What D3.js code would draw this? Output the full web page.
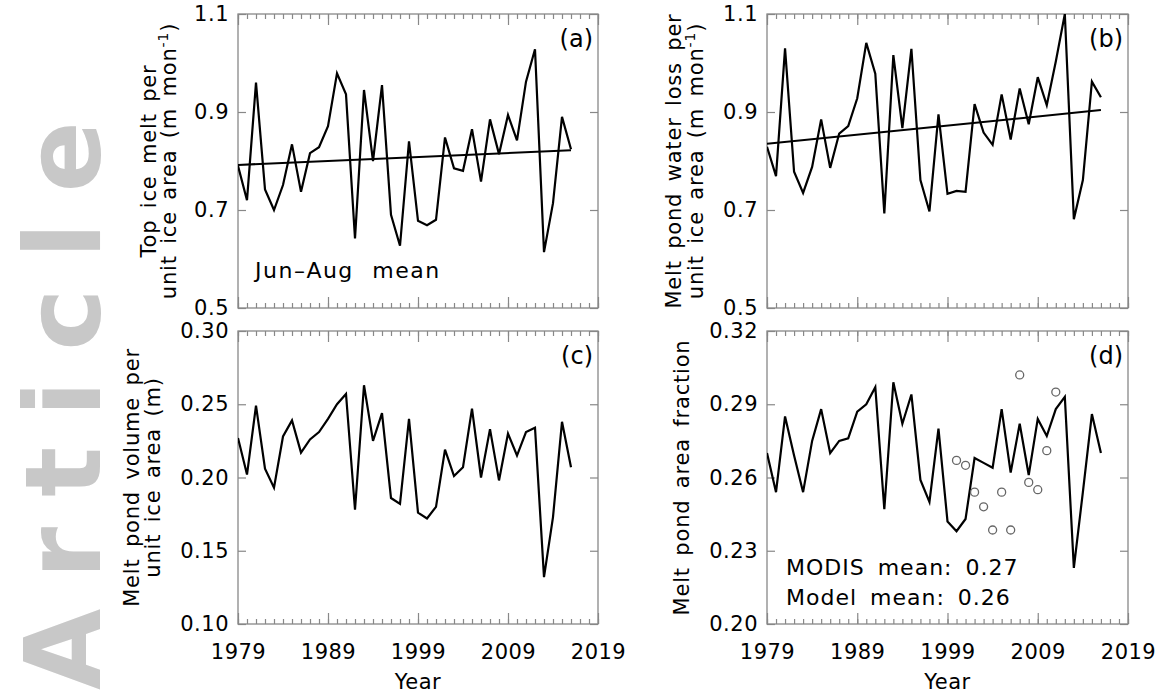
<!DOCTYPE html>
<html lang="en">
<head>
<meta charset="UTF-8">
<title>Melt pond time series</title>
<script src="https://d3js.org/d3.v7.min.js"></script>
<style>
  body { margin: 0; background: #fff; }
  svg { display: block; }
  text { font-family: "DejaVu Sans", sans-serif; fill: #000; }
</style>
</head>
<body>
<svg width="1160" height="698"></svg>
<script>
// ---- data ----
const years = d3.range(1979, 2017);
const xTickYears = [1979, 1989, 1999, 2009, 2019];

const topMelt = [0.79, 0.72, 0.96, 0.742, 0.70, 0.751, 0.834, 0.737, 0.816, 0.828,
  0.871, 0.979, 0.936, 0.642, 0.945, 0.80, 0.955, 0.69, 0.627, 0.84,
  0.678, 0.669, 0.68, 0.848, 0.785, 0.78, 0.865, 0.758, 0.885, 0.814,
  0.894, 0.842, 0.962, 1.028, 0.614, 0.714, 0.89, 0.824];
const topMeltTrend = [0.792, 0.822];

const pondLoss = [0.829, 0.769, 1.03, 0.778, 0.735, 0.788, 0.885, 0.786, 0.856, 0.871,
  0.928, 1.041, 0.978, 0.693, 1.016, 0.867, 1.029, 0.761, 0.697, 0.895,
  0.733, 0.739, 0.737, 0.916, 0.858, 0.833, 0.936, 0.844, 0.948, 0.875,
  0.971, 0.914, 1.003, 1.10, 0.681, 0.761, 0.962, 0.93];
const pondLossTrend = [0.835, 0.904];

const pondVolume = [0.227, 0.202, 0.249, 0.206, 0.193, 0.228, 0.239, 0.217, 0.226, 0.231,
  0.240, 0.250, 0.257, 0.178, 0.263, 0.225, 0.244, 0.186, 0.182, 0.240,
  0.176, 0.172, 0.180, 0.219, 0.201, 0.207, 0.247, 0.200, 0.233, 0.198,
  0.230, 0.215, 0.231, 0.234, 0.132, 0.173, 0.238, 0.207];

const pondFraction = [0.270, 0.254, 0.285, 0.269, 0.254, 0.275, 0.288, 0.270, 0.275, 0.276,
  0.287, 0.290, 0.297, 0.247, 0.299, 0.282, 0.294, 0.259, 0.250, 0.280,
  0.242, 0.238, 0.243, 0.268, 0.266, 0.264, 0.288, 0.262, 0.282, 0.261,
  0.284, 0.277, 0.288, 0.293, 0.223, 0.254, 0.286, 0.270];

const modisYears = [2000, 2001, 2002, 2003, 2004, 2005, 2006, 2007, 2008, 2009, 2010, 2011];
const modisFraction = [0.267, 0.265, 0.254, 0.248, 0.2385, 0.254, 0.2385, 0.302, 0.258, 0.255, 0.271, 0.295];

const yTicksA = [0.5, 0.7, 0.9, 1.1];
const yTicksB = [0.5, 0.7, 0.9, 1.1];
const yTicksC = [0.10, 0.15, 0.20, 0.25, 0.30];
const yTicksD = [0.20, 0.23, 0.26, 0.29, 0.32];

// ---- layout ----
const svg = d3.select("svg");
const boxColor = "#888";

// faint watermark on the left edge
svg.append("text")
  .attr("transform", "translate(100,690) rotate(-90)")
  .attr("font-size", 105)
  .attr("font-weight", "bold")
  .attr("letter-spacing", 30)
  .style("fill", "#c8c8c8")
  .text("Article");

const panels = [
  { id: "a", values: topMelt, trend: topMeltTrend, domain: [0.5, 1.1], ticks: yTicksA, fmt: ".1f",
    box: [238, 14, 598, 308], titles: ["Top ice melt per", "unit ice area (m mon|-1|)"], titleX: [-82, -62], xLabels: false },
  { id: "b", values: pondLoss, trend: pondLossTrend, domain: [0.5, 1.1], ticks: yTicksB, fmt: ".1f",
    box: [767, 14, 1128, 308], titles: ["Melt pond water loss per", "unit ice area (m mon|-1|)"], titleX: [-86, -64], xLabels: false },
  { id: "c", values: pondVolume, domain: [0.10, 0.30], ticks: yTicksC, fmt: ".2f",
    box: [238, 331, 598, 624], titles: ["Melt pond volume per", "unit ice area (m)"], titleX: [-99, -78], xLabels: true },
  { id: "d", values: pondFraction, domain: [0.20, 0.32], ticks: yTicksD, fmt: ".2f",
    box: [767, 331, 1128, 624], titles: ["Melt pond area fraction"], titleX: [-78], xLabels: true }
];

function styleAxis(g) {
  g.select(".domain").remove();
  g.selectAll(".tick line").attr("stroke", boxColor).attr("stroke-width", 1.2);
  g.selectAll(".tick text")
    .attr("font-family", "DejaVu Sans").attr("font-size", 21)
    .attr("letter-spacing", 0.5).attr("fill", "#000");
}

panels.forEach(p => {
  const [x0, y0, x1, y1] = p.box;
  const x = d3.scaleLinear().domain([1979, 2019]).range([x0, x1]);
  const y = d3.scaleLinear().domain(p.domain).range([y1, y0]);
  const g = svg.append("g").attr("class", "panel-" + p.id);
  const allYears = d3.range(1979, 2020);

  // minor + major x ticks, bottom and top
  g.append("g").attr("transform", `translate(0,${y1})`)
    .call(d3.axisBottom(x).tickValues(allYears).tickSize(-5).tickFormat("")).call(styleAxis);
  g.append("g").attr("transform", `translate(0,${y0})`)
    .call(d3.axisTop(x).tickValues(allYears).tickSize(-5).tickFormat("")).call(styleAxis);
  g.append("g").attr("transform", `translate(0,${y1})`)
    .call(d3.axisBottom(x).tickValues(xTickYears).tickSize(-11).tickPadding(20)
      .tickFormat(p.xLabels ? d3.format("d") : "")).call(styleAxis);
  g.append("g").attr("transform", `translate(0,${y0})`)
    .call(d3.axisTop(x).tickValues(xTickYears).tickSize(-11).tickFormat("")).call(styleAxis);

  // y ticks left (labelled) and right
  g.append("g").attr("transform", `translate(${x0},0)`)
    .call(d3.axisLeft(y).tickValues(p.ticks).tickSize(-8).tickPadding(9).tickFormat(d3.format(p.fmt))).call(styleAxis);
  g.append("g").attr("transform", `translate(${x1},0)`)
    .call(d3.axisRight(y).tickValues(p.ticks).tickSize(-8).tickFormat("")).call(styleAxis);

  // frame
  g.append("rect").attr("x", x0).attr("y", y0).attr("width", x1 - x0).attr("height", y1 - y0)
    .attr("fill", "none").attr("stroke", boxColor).attr("stroke-width", 1.3);

  // data
  g.append("clipPath").attr("id", "clip-" + p.id)
    .append("rect").attr("x", x0).attr("y", y0).attr("width", x1 - x0).attr("height", y1 - y0);
  const plot = g.append("g").attr("clip-path", `url(#clip-${p.id})`);
  const line = d3.line().x((d, i) => x(years[i])).y(d => y(d));
  plot.append("path").attr("d", line(p.values))
    .attr("fill", "none").attr("stroke", "#000").attr("stroke-width", 2.2);
  if (p.trend) {
    plot.append("line")
      .attr("x1", x(years[0])).attr("y1", y(p.trend[0]))
      .attr("x2", x(years[years.length - 1])).attr("y2", y(p.trend[1]))
      .attr("stroke", "#000").attr("stroke-width", 2);
  }

  // panel letter
  g.append("text").attr("x", x1 - 5).attr("y", y0 + 33)
    .attr("text-anchor", "end").attr("font-size", 24).text(`(${p.id})`);

  // y title (rotated), "|" marks superscript
  const cy = (y0 + y1) / 2;
  p.titles.forEach((t, i) => {
    const txt = g.append("text")
      .attr("transform", `translate(${x0 + p.titleX[i]},${cy}) rotate(-90)`)
      .attr("text-anchor", "middle").attr("font-size", 21)
      .attr("letter-spacing", 0.8).attr("word-spacing", 4);
    t.split("|").forEach((part, k) => {
      const ts = txt.append("tspan").text(part);
      if (k === 1) ts.attr("dy", -8).attr("font-size", 14);
      if (k === 2) ts.attr("dy", 8);
    });
  });

  if (p.xLabels) {
    g.append("text").attr("x", (x0 + x1) / 2).attr("y", y1 + 65)
      .attr("text-anchor", "middle").attr("font-size", 21).attr("letter-spacing", 0.5).text("Year");
  }

  if (p.id === "a") {
    g.append("text").attr("x", x0 + 17).attr("y", y1 - 30)
      .attr("font-size", 22).attr("letter-spacing", 1.5).attr("word-spacing", 10).text("Jun\u2013Aug mean");
  }
  if (p.id === "d") {
    plot.selectAll("circle").data(modisFraction).join("circle")
      .attr("cx", (d, i) => x(modisYears[i])).attr("cy", d => y(d)).attr("r", 4)
      .attr("fill", "none").attr("stroke", "#666").attr("stroke-width", 1.3);
    g.append("text").attr("x", x0 + 19).attr("y", y1 - 49)
      .attr("font-size", 22).attr("letter-spacing", 1).attr("word-spacing", 5).text("MODIS mean: 0.27");
    g.append("text").attr("x", x0 + 19).attr("y", y1 - 19)
      .attr("font-size", 22).attr("letter-spacing", 1).attr("word-spacing", 5).text("Model mean: 0.26");
  }
});
</script>
</body>
</html>
